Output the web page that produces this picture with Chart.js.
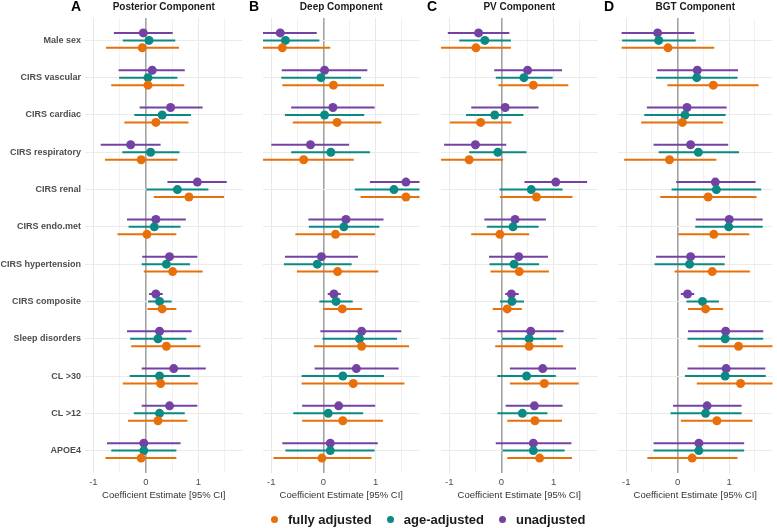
<!DOCTYPE html>
<html>
<head>
<meta charset="utf-8">
<script src="https://cdn.jsdelivr.net/npm/chart.js@4.4.1/dist/chart.umd.min.js"></script>
<style>
  html, body { margin: 0; padding: 0; background: #fff; }
  #figure { position: relative; width: 777px; height: 528px; overflow: hidden; background: #fff;
            font-family: 'Liberation Sans', Arial, sans-serif; }
  #figure canvas { position: absolute; top: 0; }
  #legend { position: absolute; top: 511px; left: 271px; height: 16px; display: flex; align-items: center;
            font-weight: bold; font-size: 13px; color: #1a1a1a; white-space: nowrap; }
  #legend .item { display: flex; align-items: center; margin-right: 15px; }
  #legend .dot { width: 7px; height: 7px; border-radius: 50%; margin-right: 10px; }
</style>
</head>
<body>
<div id="figure">
  <canvas id="panel0" width="247" height="528" style="left:0px"></canvas>
  <canvas id="panel1" width="177" height="528" style="left:247px"></canvas>
  <canvas id="panel2" width="177" height="528" style="left:425px"></canvas>
  <canvas id="panel3" width="175" height="528" style="left:602px"></canvas>
  <div id="legend"></div>
</div>
<script>
// Rows (top to bottom) and panels
const rowLabels = ['Male sex', 'CIRS vascular', 'CIRS cardiac', 'CIRS respiratory', 'CIRS renal',
    'CIRS endo.met', 'CIRS hypertension', 'CIRS composite', 'Sleep disorders', 'CL >30', 'CL >12', 'APOE4'];
const panelTitles = ['Posterior Component', 'Deep Component', 'PV Component', 'BGT Component'];
const panelLetters = ['A', 'B', 'C', 'D'];
const seriesNames = ['fully adjusted', 'age-adjusted', 'unadjusted'];
const seriesColors = ['#E8700A', '#0B8A84', '#7442A3'];
const xTicks = [-1, -0.5, 0, 0.5, 1, 1.5];

// Each entry: [lower CI, estimate, upper CI]
const posteriorFull = [[-0.76, -0.07, 0.63], [-0.66, 0.04, 0.73], [-0.41, 0.19, 0.81], [-0.78, -0.09, 0.60],
    [0.15, 0.82, 1.49], [-0.54, 0.02, 0.58], [-0.04, 0.51, 1.08], [0.03, 0.31, 0.58],
    [-0.28, 0.39, 1.04], [-0.44, 0.28, 0.99], [-0.34, 0.23, 0.79], [-0.77, -0.09, 0.58]];
const posteriorAge = [[-0.44, 0.06, 0.56], [-0.51, 0.04, 0.60], [-0.22, 0.31, 0.86], [-0.45, 0.09, 0.64],
    [0.01, 0.60, 1.19], [-0.33, 0.16, 0.66], [-0.08, 0.39, 0.84], [0.04, 0.26, 0.49],
    [-0.30, 0.23, 0.77], [-0.31, 0.26, 0.84], [-0.23, 0.26, 0.74], [-0.66, -0.04, 0.58]];
const posteriorUnadj = [[-0.61, -0.05, 0.51], [-0.52, 0.12, 0.74], [-0.12, 0.47, 1.08], [-0.86, -0.29, 0.28],
    [0.41, 0.98, 1.54], [-0.36, 0.19, 0.76], [-0.07, 0.45, 0.98], [0.06, 0.19, 0.32],
    [-0.36, 0.26, 0.87], [-0.08, 0.53, 1.14], [-0.08, 0.45, 0.98], [-0.74, -0.04, 0.66]];

const deepFull = [[-1.71, -0.79, 0.13], [-0.79, 0.19, 1.16], [-0.59, 0.26, 1.11], [-1.34, -0.38, 0.58],
    [0.71, 1.58, 2.45], [-0.54, 0.23, 0.99], [-0.51, 0.27, 1.05], [-0.01, 0.36, 0.74],
    [-0.18, 0.73, 1.64], [-0.42, 0.57, 1.55], [-0.41, 0.37, 1.14], [-0.96, -0.03, 0.92]];
const deepAge = [[-1.38, -0.73, -0.08], [-0.81, -0.05, 0.72], [-0.74, 0.02, 0.78], [-0.62, 0.14, 0.89],
    [0.60, 1.35, 2.10], [-0.28, 0.39, 1.07], [-0.76, -0.12, 0.54], [-0.08, 0.24, 0.56],
    [-0.02, 0.69, 1.41], [-0.42, 0.37, 1.16], [-0.58, 0.09, 0.76], [-0.73, 0.13, 0.98]];
const deepUnadj = [[-1.53, -0.83, -0.13], [-0.80, 0.02, 0.84], [-0.62, 0.18, 0.98], [-1.00, -0.25, 0.49],
    [0.89, 1.58, 2.27], [-0.29, 0.43, 1.15], [-0.74, -0.04, 0.66], [0.08, 0.20, 0.33],
    [-0.06, 0.73, 1.49], [-0.17, 0.63, 1.44], [-0.41, 0.29, 0.99], [-0.79, 0.13, 1.04]];

const pvFull = [[-1.16, -0.49, 0.18], [-0.06, 0.61, 1.28], [-0.99, -0.40, 0.19], [-1.27, -0.62, 0.03],
    [-0.03, 0.67, 1.36], [-0.58, -0.03, 0.53], [-0.21, 0.34, 0.91], [-0.17, 0.11, 0.39],
    [-0.12, 0.53, 1.18], [0.16, 0.82, 1.48], [0.11, 0.64, 1.16], [0.11, 0.73, 1.35]];
const pvAge = [[-0.81, -0.32, 0.18], [-0.11, 0.43, 0.98], [-0.68, -0.13, 0.42], [-0.62, -0.07, 0.48],
    [-0.04, 0.57, 1.17], [-0.28, 0.22, 0.71], [-0.23, 0.24, 0.72], [-0.03, 0.20, 0.43],
    [0.01, 0.53, 1.05], [-0.08, 0.48, 1.04], [-0.08, 0.40, 0.88], [0.02, 0.61, 1.21]];
const pvUnadj = [[-1.03, -0.44, 0.15], [-0.14, 0.50, 1.16], [-0.58, 0.07, 0.71], [-1.10, -0.50, 0.09],
    [0.44, 1.04, 1.64], [-0.33, 0.26, 0.85], [-0.24, 0.33, 0.89], [0.07, 0.19, 0.33],
    [-0.08, 0.56, 1.19], [0.16, 0.79, 1.43], [0.08, 0.63, 1.17], [-0.11, 0.61, 1.34]];

const bgtFull = [[-1.09, -0.19, 0.71], [-0.20, 0.69, 1.57], [-0.71, 0.09, 0.88], [-1.04, -0.16, 0.75],
    [-0.34, 0.59, 1.53], [0.01, 0.70, 1.39], [-0.06, 0.67, 1.40], [0.20, 0.54, 0.88],
    [0.40, 1.18, 1.96], [0.37, 1.22, 2.07], [0.06, 0.76, 1.45], [-0.59, 0.28, 1.16]];
const bgtAge = [[-1.08, -0.37, 0.35], [-0.42, 0.37, 1.16], [-0.65, 0.14, 0.93], [-0.37, 0.40, 1.19],
    [-0.12, 0.75, 1.62], [0.34, 0.99, 1.65], [-0.45, 0.23, 0.91], [0.17, 0.48, 0.80],
    [0.19, 0.92, 1.66], [0.14, 0.92, 1.71], [-0.14, 0.54, 1.24], [-0.47, 0.41, 1.29]];
const bgtUnadj = [[-1.09, -0.39, 0.32], [-0.40, 0.38, 1.17], [-0.60, 0.18, 0.95], [-0.47, 0.25, 0.98],
    [-0.03, 0.73, 1.51], [0.35, 1.00, 1.65], [-0.42, 0.25, 0.92], [0.06, 0.19, 0.32],
    [0.20, 0.93, 1.66], [0.19, 0.94, 1.70], [-0.09, 0.57, 1.24], [-0.47, 0.41, 1.29]];

const panelSeries = [
    [posteriorFull, posteriorAge, posteriorUnadj],
    [deepFull, deepAge, deepUnadj],
    [pvFull, pvAge, pvUnadj],
    [bgtFull, bgtAge, bgtUnadj]
];

const FONT = "'Liberation Sans', Arial, Helvetica, sans-serif";
const dodge = [0.2, 0, -0.2];   // fully below, unadjusted above the row line

// CI whiskers drawn under the points, through the chart's scales
const whiskerPlugin = {
    id: 'whiskers',
    beforeDatasetsDraw(chart) {
        const { ctx, chartArea, scales } = chart;
        ctx.save();
        ctx.beginPath();
        ctx.rect(chartArea.left, chartArea.top, chartArea.right - chartArea.left, chartArea.bottom - chartArea.top);
        ctx.clip();
        ctx.lineWidth = 2;
        chart.data.datasets.forEach(ds => {
            ctx.strokeStyle = ds.backgroundColor;
            ds.ci.forEach((t, i) => {
                const py = scales.y.getPixelForValue(ds.data[i].y);
                ctx.beginPath();
                ctx.moveTo(scales.x.getPixelForValue(t[0]), py);
                ctx.lineTo(scales.x.getPixelForValue(t[2]), py);
                ctx.stroke();
            });
        });
        ctx.restore();
    }
};

// Panel title and letter tag
const panelTextPlugin = {
    id: 'panelText',
    afterDraw(chart, args, opts) {
        const { ctx, chartArea } = chart;
        ctx.save();
        ctx.textBaseline = 'middle';
        ctx.textAlign = 'center';
        ctx.fillStyle = '#1a1a1a';
        ctx.font = 'bold 10px ' + FONT;
        ctx.fillText(opts.title, (chartArea.left + chartArea.right) / 2, 7);
        ctx.fillStyle = '#000';
        ctx.font = 'bold 14px ' + FONT;
        ctx.fillText(opts.letter, chartArea.left - 9, 7);
        ctx.restore();
    }
};

const paddings = [
    { left: 0, right: 2, top: 18, bottom: 23 },
    { left: 16, right: 2, top: 18, bottom: 23 },
    { left: 16, right: 2, top: 18, bottom: 23 },
    { left: 16, right: 0, top: 18, bottom: 23 }
];

function buildPanel(idx) {
    const datasets = panelSeries[idx].map((rows, s) => ({
        label: seriesNames[s],
        data: rows.map((t, i) => ({ x: t[1], y: i + dodge[s] })),
        ci: rows,
        backgroundColor: seriesColors[s],
        borderColor: seriesColors[s],
        borderWidth: 0,
        pointRadius: 4.5,
        pointHoverRadius: 4.5
    }));

    new Chart(document.getElementById('panel' + idx), {
        type: 'scatter',
        data: { datasets },
        options: {
            responsive: false,
            animation: false,
            events: [],
            layout: { padding: paddings[idx] },
            plugins: {
                legend: { display: false },
                tooltip: { enabled: false },
                panelText: { title: panelTitles[idx], letter: panelLetters[idx] }
            },
            scales: {
                x: {
                    type: 'linear',
                    min: -1.16,
                    max: 1.84,
                    afterBuildTicks: s => { s.ticks = xTicks.map(v => ({ value: v })); },
                    afterFit: s => { s.height = 32; },
                    ticks: {
                        autoSkip: false,
                        maxRotation: 0,
                        padding: 4,
                        color: '#4d4d4d',
                        font: { family: FONT, size: 9.5 },
                        callback: v => Number.isInteger(v) ? String(v) : ''
                    },
                    grid: {
                        drawTicks: false,
                        color: c => c.tick.value === 0 ? '#a3a3a3' : (Number.isInteger(c.tick.value) ? '#e8e8e8' : '#f1f1f1'),
                        lineWidth: c => c.tick.value === 0 ? 1.6 : 1
                    },
                    border: { display: false },
                    title: {
                        display: true,
                        text: 'Coefficient Estimate [95% CI]',
                        color: '#333',
                        font: { family: FONT, size: 9.5 },
                        padding: { top: 2, bottom: 4 }
                    }
                },
                y: {
                    type: 'linear',
                    reverse: true,
                    min: -0.6,
                    max: 11.6,
                    afterBuildTicks: s => { s.ticks = rowLabels.map((_, i) => ({ value: i })); },
                    afterFit: s => { s.width = idx === 0 ? 85 : 0; },
                    ticks: {
                        display: idx === 0,
                        autoSkip: false,
                        padding: 4,
                        color: '#4d4d4d',
                        font: { family: FONT, size: 9, weight: 'bold' },
                        callback: v => rowLabels[v]
                    },
                    grid: { drawTicks: false, color: '#ebebeb', lineWidth: 1 },
                    border: { display: false }
                }
            }
        },
        plugins: [whiskerPlugin, panelTextPlugin]
    });
}

for (let i = 0; i < panelTitles.length; i++) buildPanel(i);

// Shared legend
const legendEl = document.getElementById('legend');
seriesNames.forEach((name, s) => {
    const item = document.createElement('div');
    item.className = 'item';
    const dot = document.createElement('span');
    dot.className = 'dot';
    dot.style.background = seriesColors[s];
    const txt = document.createElement('span');
    txt.textContent = name;
    item.appendChild(dot);
    item.appendChild(txt);
    legendEl.appendChild(item);
});
</script>
</body>
</html>
